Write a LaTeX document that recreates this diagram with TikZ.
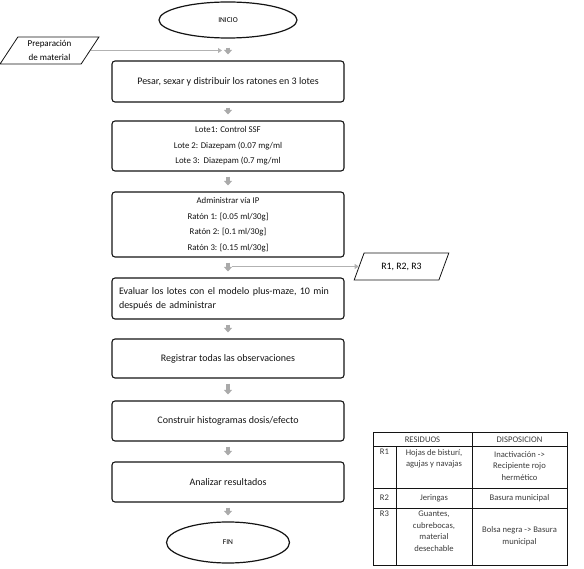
\documentclass[tikz,border=0pt]{standalone}
\usepackage{fontspec}
\setmainfont{Carlito}
\usetikzlibrary{arrows.meta,shapes.geometric}
\definecolor{flowInk}{RGB}{20,20,20}
\definecolor{flowArrow}{RGB}{170,170,170}
\definecolor{flowLine}{RGB}{178,178,178}
\definecolor{flowText}{RGB}{60,60,60}
\tikzset{
  fbody/.style={font=\fontsize{10}{14}\selectfont, text=flowInk},
  fsmall/.style={font=\fontsize{8.8}{15.5}\selectfont, text=flowInk},
  fstep/.style={draw=flowInk, line width=1.1pt, rounded corners=3pt,
    fill=white, minimum width=232pt, align=center, inner sep=0pt},
  fterm/.style={ellipse, draw=flowInk, line width=1.2pt, fill=white,
    font=\fontsize{7.5}{8}\selectfont, inner sep=0pt},
  fio/.style={trapezium, trapezium stretches=true, draw=flowInk,
    line width=.8pt, minimum height=27pt, align=center, inner sep=0pt},
  fflow/.style={-{Triangle[width=8pt,length=4.5pt]}, line width=4.5pt,
    draw=flowArrow, shorten <=5pt, shorten >=6pt},
  fside/.style={-{Triangle[width=5pt,length=4pt]}, line width=1.8pt,
    draw=flowLine},
  tcell/.style={font=\fontsize{8.6}{11.5}\selectfont, text=flowText,
    align=center, inner sep=0pt}
}
\begin{document}
\begin{tikzpicture}[x=1pt, y=-1pt]
\useasboundingbox (0,0) rectangle (584,569);

% main column
\node[fterm, minimum width=138pt, minimum height=36pt] (inicio) at (228,20) {INICIO};
\node[fstep, fbody, minimum height=41pt] (pesar) at (228,81.5)
  {Pesar, sexar y distribuir los ratones en 3 lotes};
\node[fstep, fsmall, minimum height=50pt] (lotes) at (228,146)
  {Lote1: Control SSF\\Lote 2: Diazepam (0.07 mg/ml\\Lote 3:\ \ Diazepam (0.7 mg/ml};
\node[fstep, fsmall, minimum height=65pt] (via) at (228,224.5)
  {Administrar vía IP\\Ratón 1: [0.05 ml/30g]\\Ratón 2: [0.1 ml/30g]\\Ratón 3: [0.15 ml/30g]};
\node[fstep, fbody, minimum height=41pt, text width=218pt, align=left] (evaluar) at (228,298.5)
  {Evaluar los lotes con el modelo plus-maze, 10 min\\después de administrar};
\node[fstep, fbody, minimum height=39pt] (registrar) at (228,358.5) {Registrar todas las observaciones};
\node[fstep, fbody, minimum height=40pt] (histo) at (228,421) {Construir histogramas dosis/efecto};
\node[fstep, fbody, minimum height=40pt] (analizar) at (228,482) {Analizar resultados};
\node[fterm, minimum width=123pt, minimum height=41pt] (fin) at (228,542.5) {FIN};

% side inputs / outputs
\node[fio, trapezium left angle=58, trapezium right angle=122, minimum width=99pt,
  font=\fontsize{9}{13.5}\selectfont] (prep) at (49.5,50.5) {Preparación\\de material};
\node[fio, trapezium left angle=55, trapezium right angle=125, minimum width=95pt,
  font=\fontsize{9.8}{11}\selectfont] (resid) at (401.5,266.5) {R1, R2, R3};

\draw[fflow, shorten <=9pt] (inicio) -- (pesar);
\draw[fflow] (pesar) -- (lotes);
\draw[fflow] (lotes) -- (via);
\draw[fflow] (via) -- (evaluar);
\draw[fflow] (evaluar) -- (registrar);
\draw[fflow] (registrar) -- (histo);
\draw[fflow] (histo) -- (analizar);
\draw[fflow] (analizar) -- (fin);

\draw[fside, shorten >=6pt] (prep.east) -- (prep.east -| pesar.center);
\draw[fside, shorten <=4pt] (via.south |- resid.west) -- (resid.west);

% waste table
\draw[flowInk, line width=.8pt] (373,432) rectangle (567,565);
\draw[flowInk, line width=.8pt] (373,446) -- (567,446);
\draw[flowInk, line width=.8pt] (373,488) -- (567,488);
\draw[flowInk, line width=.8pt] (373,508) -- (567,508);
\draw[flowInk, line width=.8pt] (396,446) -- (396,565);
\draw[flowInk, line width=.8pt] (472,432) -- (472,565);

\node[tcell] (hres) at (422.5,439.5) {RESIDUOS};
\node[tcell] (hdis) at (519.5,439.5) {DISPOSICION};
\node[tcell, anchor=north] (r1) at (384.5,449) {R1};
\node[tcell, anchor=north] (r1res) at (434,449) {Hojas de bisturí,\\agujas y navajas};
\node[tcell, anchor=north] (r1dis) at (519.5,451) {Inactivación ->\\Recipiente rojo\\hermético};
\node[tcell] (r2) at (384.5,498) {R2};
\node[tcell] (r2res) at (434,498) {Jeringas};
\node[tcell] (r2dis) at (519.5,498) {Basura municipal};
\node[tcell, anchor=north] (r3) at (384.5,511) {R3};
\node[tcell, anchor=north] (r3res) at (434,511) {Guantes,\\cubrebocas,\\material\\desechable};
\node[tcell] (r3dis) at (519.5,536) {Bolsa negra -> Basura\\municipal};
\end{tikzpicture}
\end{document}
